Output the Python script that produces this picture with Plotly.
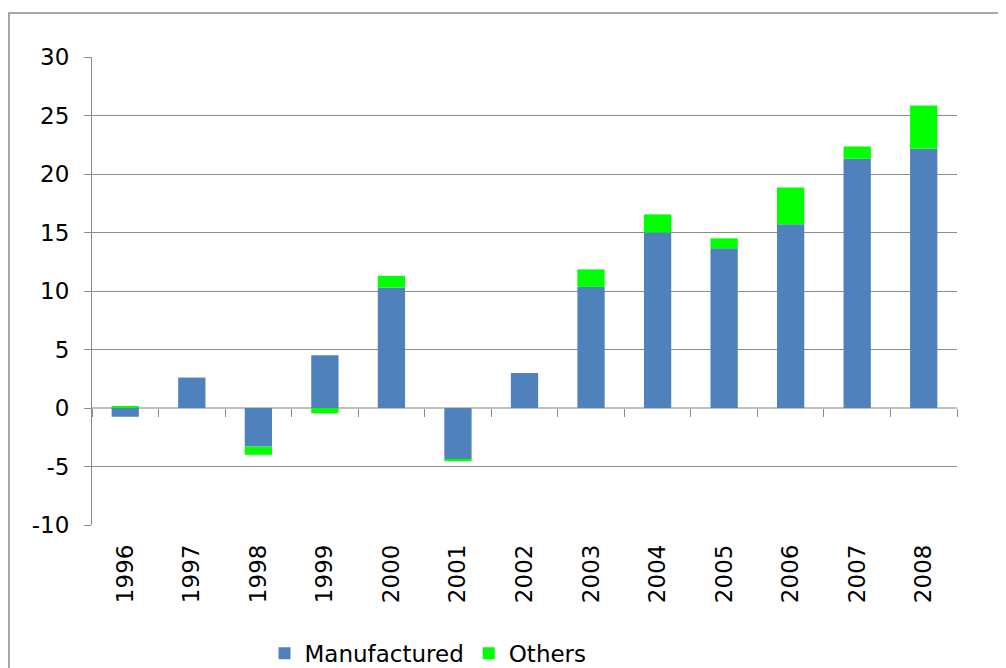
import plotly.graph_objects as go

years = ["1996", "1997", "1998", "1999", "2000", "2001", "2002",
         "2003", "2004", "2005", "2006", "2007", "2008"]
manufactured = [-0.75, 2.6, -3.3, 4.5, 10.3, -4.35, 3.0,
                10.35, 15.0, 13.65, 15.7, 21.3, 22.15]
others = [0.15, 0.0, -0.7, -0.45, 1.0, -0.2, 0.0,
          1.5, 1.55, 0.85, 3.15, 1.05, 3.7]
y_ticks = [-10, -5, 0, 5, 10, 15, 20, 25, 30]

font_name = "DejaVu Sans"
grid = "#8c8c8c"

fig = go.Figure()
fig.add_trace(go.Bar(x=years, y=manufactured, name="Manufactured",
                     marker=dict(color="#4F81BD", line=dict(width=0)), width=0.41))
fig.add_trace(go.Bar(x=years, y=others, name="Others",
                     marker=dict(color="#00FF00", line=dict(width=0)), width=0.41))

# invisible helper so the overlay axis (category boundary ticks on the zero line) is drawn
fig.add_trace(go.Scatter(x=[-0.5, 12.5], y=[0, 0], xaxis="x2", mode="lines",
                         line=dict(width=0), hoverinfo="skip", showlegend=False))

fig.update_layout(
    barmode="relative",
    width=1006, height=668,
    margin=dict(l=84, r=57, t=49, b=151),
    plot_bgcolor="white", paper_bgcolor="white",
    font=dict(family=font_name, size=23, color="black"),
    showlegend=True,
    legend=dict(orientation="h", xref="container", yref="container",
                x=0.255, y=0.034, xanchor="left", yanchor="middle",
                font=dict(size=23), itemwidth=30, tracegroupgap=0),
    xaxis=dict(type="category", showgrid=False, zeroline=False,
               tickangle=-90, ticks="", ticklabelstandoff=14,
               range=[-0.5, 12.5], showline=False),
    xaxis2=dict(overlaying="x", anchor="free", position=0.25, range=[-0.5, 12.5],
                tickvals=[i - 0.5 for i in range(len(years) + 1)], ticks="outside",
                ticklen=8, tickcolor=grid, showticklabels=False, showgrid=False,
                zeroline=False, showline=False),
    yaxis=dict(range=[-10, 30], tickvals=y_ticks, ticktext=[str(v) for v in y_ticks],
               showgrid=True, gridcolor=grid, gridwidth=1,
               zeroline=True, zerolinecolor="#bfbfbf", zerolinewidth=2,
               showline=True, linecolor=grid, linewidth=1,
               ticks="outside", ticklen=7, tickcolor=grid,
               ticklabelstandoff=10),
    shapes=[dict(type="rect", xref="paper", yref="paper",
                 x0=-0.096, x1=1.2, y0=-0.5, y1=1.094,
                 line=dict(color=grid, width=1.5), layer="below")],
)

fig.write_html("out.html")
